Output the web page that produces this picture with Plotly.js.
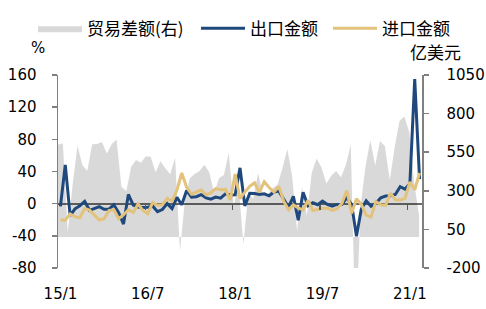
<!DOCTYPE html>
<html><head><meta charset="utf-8">
<script src="https://cdn.plot.ly/plotly-3.0.1.min.js"></script>
<style>html,body{margin:0;padding:0;background:#fff}</style>
</head><body><div id="chart" style="width:486px;height:309px"></div>
<script>
const months = [
 '15/1','15/2','15/3','15/4','15/5','15/6','15/7','15/8','15/9','15/10','15/11','15/12',
 '16/1','16/2','16/3','16/4','16/5','16/6','16/7','16/8','16/9','16/10','16/11','16/12',
 '17/1','17/2','17/3','17/4','17/5','17/6','17/7','17/8','17/9','17/10','17/11','17/12',
 '18/1','18/2','18/3','18/4','18/5','18/6','18/7','18/8','18/9','18/10','18/11','18/12',
 '19/1','19/2','19/3','19/4','19/5','19/6','19/7','19/8','19/9','19/10','19/11','19/12',
 '20/1','20/2','20/3','20/4','20/5','20/6','20/7','20/8','20/9','20/10','20/11','20/12',
 '21/1','21/2','21/3'];
// 出口金额 同比 %
const exportsYoY = [
 -3.3,48.3,-15.0,-6.4,-2.5,2.8,-8.3,-5.5,-3.7,-6.9,-6.8,-1.4,
 -11.2,-25.4,11.5,-1.8,-4.1,-4.8,-4.4,-2.8,-10.0,-7.3,0.1,-6.1,
 7.9,-1.3,16.4,8.0,8.7,11.3,7.2,5.5,8.1,6.9,12.3,10.9,
 11.1,44.5,-2.7,12.9,12.6,11.3,12.2,9.8,14.5,15.6,5.4,-4.4,
 9.1,-20.7,14.2,-2.7,1.1,-1.3,3.3,-1.0,-3.2,-0.9,-1.1,7.6,
 -1.0,-40.6,-6.6,3.5,-3.3,0.5,7.2,9.5,9.9,11.4,21.1,18.1,
 24.7,154.9,30.6];
// 进口金额 同比 %
const importsYoY = [
 -19.9,-20.5,-12.7,-16.2,-17.6,-6.1,-8.1,-13.8,-20.4,-18.8,-8.7,-7.6,
 -18.8,-13.8,-7.6,-10.9,-0.4,-8.4,-12.5,1.5,-1.9,-1.4,6.7,3.1,
 16.7,38.1,20.3,11.9,14.8,17.2,11.0,13.3,18.7,17.2,17.7,4.5,
 36.9,6.3,14.4,21.5,26.0,14.1,27.3,20.0,14.3,21.4,3.0,-7.6,
 -1.5,-5.2,-7.6,4.0,-8.5,-7.3,-5.6,-5.6,-8.5,-6.4,0.3,16.3,
 -12.0,6.0,-0.9,-14.2,-16.7,2.7,-1.4,-2.1,13.2,4.7,4.5,6.5,
 27.0,17.3,38.1];
// 贸易差额 亿美元 (右轴)
const tradeBalance = [
 600,606,31,341,594,465,430,602,603,616,541,601,
 633,326,299,456,500,481,523,521,420,491,446,407,
 514,-92,239,381,408,428,468,420,285,382,402,547,
 203,337,-50,288,249,416,281,279,317,340,448,571,
 392,41,327,138,417,510,451,348,397,428,387,468,
 600,-670,199,453,629,464,623,589,370,584,754,781,
 680,352,138];
const tickLabels = ['15/1','16/7','18/1','19/7','21/1'];
const boundaryTicks = [17.5,35.5,53.5,71.5];
const leftTickVals = [-80,-40,0,40,80,120,160];
const leftTickText = ['-80','-40','0','40','80','120','160'];
const rightTickVals = [-200,50,300,550,800,1050];
const rightTickText = ['-200','50','300','550','800','1050'];

const tickFont = {family:'DejaVu Sans', size:15, color:'#000'};
const cjkFont = {family:'Noto Sans CJK SC', size:17, color:'#000'};
const axisGrey = '#808080';

const traces = [
 {type:'scatter', mode:'lines', name:'贸易差额(右)', x:months, y:tradeBalance, legend:'legend',
  xaxis:'x', yaxis:'y', fill:'tozeroy', fillcolor:'rgba(0,0,0,0.15)',
  line:{width:0, color:'rgba(0,0,0,0.15)'}},
 {type:'scatter', mode:'lines', name:'出口金额', x:months, y:exportsYoY, legend:'legend2',
  xaxis:'x2', yaxis:'y2', line:{color:'#1F497D', width:3}},
 {type:'scatter', mode:'lines', name:'进口金额', x:months, y:importsYoY, legend:'legend3',
  xaxis:'x2', yaxis:'y2', line:{color:'#E3C27B', width:3}},
 {type:'scatter', mode:'lines', x:[0], y:[null], xaxis:'x3', yaxis:'y2', showlegend:false, hoverinfo:'skip'}
];

function legendAt(px){
  return {orientation:'h', xref:'container', yref:'container', x:px/486, y:0.965,
    yanchor:'top', xanchor:'left', font:cjkFont, itemwidth:44, bgcolor:'rgba(0,0,0,0)'};
}

const layout = {
 width:486, height:309,
 margin:{l:58, r:64, t:75, b:41},
 paper_bgcolor:'#fff', plot_bgcolor:'rgba(0,0,0,0)',
 showlegend:true,
 legend:legendAt(33), legend2:legendAt(196), legend3:legendAt(328),
 xaxis:{type:'category', range:[0,74.6], showgrid:false, zeroline:false, showline:false,
   showticklabels:false, ticks:''},
 xaxis2:{type:'category', overlaying:'x', anchor:'y2', side:'bottom', range:[-0.5,74.5],
   showgrid:false, zeroline:false, showline:false, ticks:'',
   tickmode:'array', tickvals:tickLabels, ticktext:tickLabels, tickfont:tickFont, ticklabelstandoff:15},
 xaxis3:{type:'linear', overlaying:'x', anchor:'free', position:1/3, side:'bottom', range:[-0.5,74.5],
   showgrid:false, zeroline:false, showline:false, showticklabels:false,
   tickmode:'array', tickvals:boundaryTicks, ticks:'outside', ticklen:5, tickwidth:1.5, tickcolor:'#595959'},
 yaxis:{side:'right', anchor:'x', range:[-200,1050], tickmode:'array', tickvals:rightTickVals, ticktext:rightTickText,
   showgrid:false, zeroline:false, showline:true, linecolor:axisGrey, linewidth:1.5,
   ticks:'outside', ticklen:5, tickcolor:axisGrey, tickwidth:1.5, tickfont:tickFont, ticklabelstandoff:15},
 yaxis2:{overlaying:'y', side:'left', anchor:'x', range:[-80,160], tickmode:'array', tickvals:leftTickVals, ticktext:leftTickText,
   showgrid:false, zeroline:true, zerolinecolor:'#6b6b6b', zerolinewidth:2,
   showline:true, linecolor:axisGrey, linewidth:1.5,
   ticks:'outside', ticklen:5, tickcolor:axisGrey, tickwidth:1.5, tickfont:tickFont, ticklabelstandoff:12},
 annotations:[
  {text:'%', xref:'paper', yref:'paper', x:-0.054, y:1.14, xanchor:'center', yanchor:'middle', showarrow:false,
   font:{family:'DejaVu Sans', size:15, color:'#000'}},
  {text:'亿美元', xref:'paper', yref:'paper', x:1.036, y:1.124, xanchor:'center', yanchor:'middle', showarrow:false,
   font:cjkFont}
 ]
};
Plotly.newPlot('chart', traces, layout, {staticPlot:true, displayModeBar:false});
</script></body></html>
